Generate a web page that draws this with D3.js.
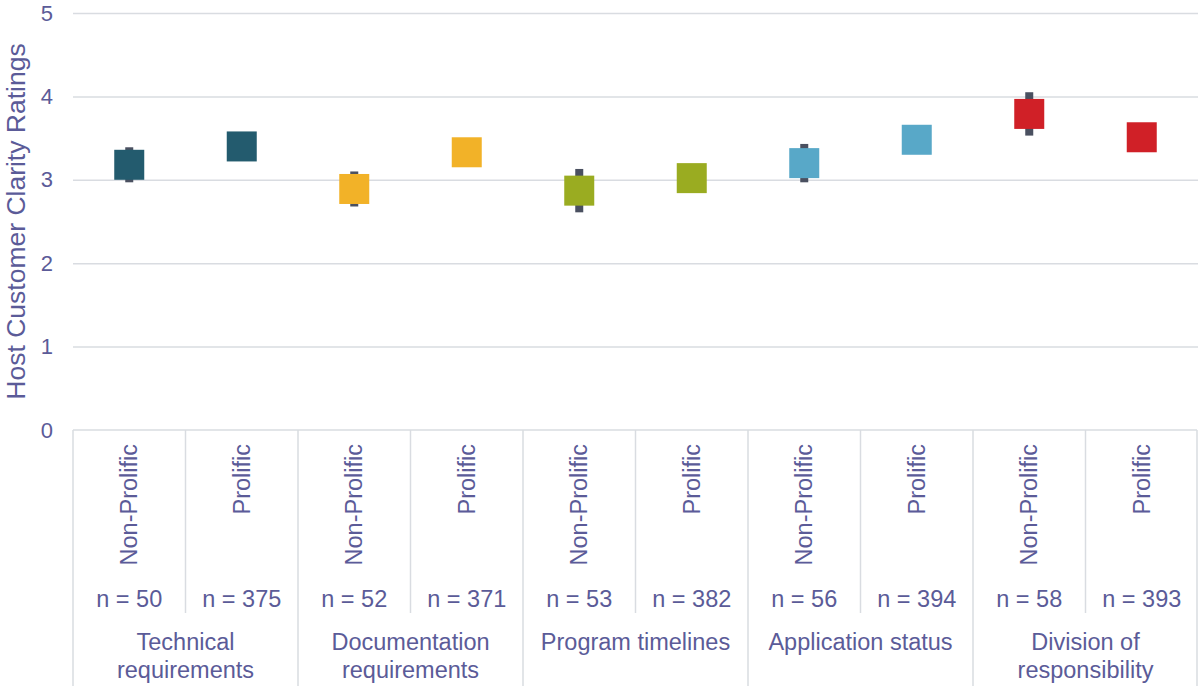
<!DOCTYPE html>
<html>
<head>
<meta charset="utf-8">
<script src="https://cdn.jsdelivr.net/npm/d3@7"></script>
<style>
  html, body { margin: 0; padding: 0; background: #ffffff; }
  svg { display: block; font-family: "Liberation Sans", Arial, sans-serif; }
</style>
</head>
<body>
<svg id="chart" width="1198" height="686"></svg>
<script>
// ---- data ----
const groups = [["Technical", "requirements"], ["Documentation", "requirements"], ["Program timelines"], ["Application status"], ["Division of", "responsibility"]];
const subgroups = ["Non-Prolific", "Prolific"];
const nNonProlific = [50, 52, 53, 56, 58];
const nProlific = [375, 371, 382, 394, 393];
const meanNonProlific = [3.18, 2.89, 2.87, 3.20, 3.79];
const meanProlific = [3.40, 3.33, 3.02, 3.48, 3.51];
const errNonProlific = [0.21, 0.21, 0.26, 0.23, 0.26];
const errProlific = [0.08, 0.08, 0.08, 0.08, 0.08];
const groupColors = ["#235b6e", "#f2b228", "#9aac21", "#58a8c8", "#d02027"];
const yTicks = [0, 1, 2, 3, 4, 5];
const yTitle = "Host Customer Clarity Ratings";

// ---- layout ----
const W = 1198, H = 686;
const mLeft = 73, mRight = 1198, mTop = 13, mBottom = 430;
const textColor = "#5b5b98";
const gridColor = "#d9dce1";

const points = [];
groups.forEach((g, gi) => {
  points.push({ key: gi + "-0", group: gi, sub: subgroups[0], n: nNonProlific[gi], mean: meanNonProlific[gi], err: errNonProlific[gi] });
  points.push({ key: gi + "-1", group: gi, sub: subgroups[1], n: nProlific[gi], mean: meanProlific[gi], err: errProlific[gi] });
});

const svg = d3.select("#chart");
const x = d3.scaleBand().domain(points.map(d => d.key)).range([mLeft, mRight]).padding(0);
const y = d3.scaleLinear().domain([0, 5]).range([mBottom, mTop]);

// gridlines + tick labels
const yAxis = d3.axisLeft(y).tickValues(yTicks).tickSize(-(mRight - mLeft)).tickPadding(20).tickFormat(d3.format("d"));
const gy = svg.append("g").attr("transform", `translate(${mLeft},0)`).call(yAxis);
gy.select(".domain").remove();
gy.selectAll(".tick line").attr("stroke", gridColor).attr("stroke-width", 1.5)
  .attr("display", d => d === 0 ? "none" : null);
gy.selectAll(".tick text").attr("fill", textColor).attr("font-size", 22)
  .attr("font-family", "Liberation Sans, Arial, sans-serif");

// y title
svg.append("text")
  .attr("transform", `translate(25,${(mTop + mBottom) / 2}) rotate(-90)`)
  .attr("text-anchor", "middle")
  .attr("fill", textColor)
  .attr("font-size", 26.5)
  .text(yTitle);

// category axis box
const axisG = svg.append("g").attr("stroke", gridColor).attr("stroke-width", 1.5).attr("fill", "none");
axisG.append("line").attr("x1", mLeft).attr("x2", mRight - 1).attr("y1", mBottom).attr("y2", mBottom);
const keys = x.domain();
keys.forEach((k, i) => {
  const xs = x(k);
  const full = i % 2 === 0;
  axisG.append("line")
    .attr("x1", xs).attr("x2", xs)
    .attr("y1", mBottom).attr("y2", full ? H : 613);
});
axisG.append("line").attr("x1", mRight - 1).attr("x2", mRight - 1).attr("y1", mBottom).attr("y2", H);

// sub labels (rotated) and n labels
const lab = svg.append("g").attr("fill", textColor).attr("font-size", 23.5);
points.forEach(p => {
  const cx = x(p.key) + x.bandwidth() / 2;
  lab.append("text")
    .attr("transform", `translate(${cx},444) rotate(-90)`)
    .attr("text-anchor", "end")
    .attr("dy", "0.35em")
    .text(p.sub);
  lab.append("text")
    .attr("x", cx).attr("y", 607)
    .attr("text-anchor", "middle")
    .text("n = " + p.n);
});
// group labels
groups.forEach((g, gi) => {
  const cx = x(gi + "-0") + x.bandwidth();
  g.forEach((line, li) => {
    lab.append("text")
      .attr("x", cx).attr("y", 650 + li * 28)
      .attr("text-anchor", "middle")
      .text(line);
  });
});

// error bars
svg.append("g").selectAll("rect").data(points).join("rect")
  .attr("x", d => x(d.key) + x.bandwidth() / 2 - 4)
  .attr("width", 8)
  .attr("y", d => y(d.mean + d.err))
  .attr("height", d => y(d.mean - d.err) - y(d.mean + d.err))
  .attr("fill", "#4a5060");

// square markers
svg.append("g").selectAll("rect").data(points).join("rect")
  .attr("x", d => x(d.key) + x.bandwidth() / 2 - 15)
  .attr("y", d => y(d.mean) - 15)
  .attr("width", 30).attr("height", 30)
  .attr("fill", d => groupColors[d.group]);
</script>
</body>
</html>
